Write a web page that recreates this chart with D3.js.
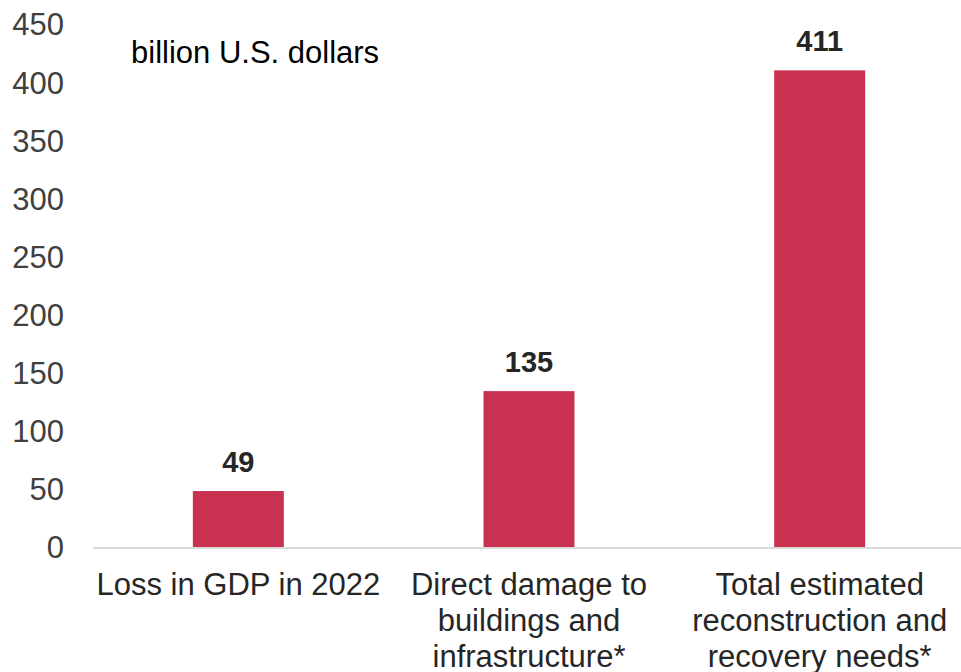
<!DOCTYPE html>
<html>
<head>
<meta charset="utf-8">
<script src="https://cdn.jsdelivr.net/npm/d3@7"></script>
<style>
  html, body { margin: 0; padding: 0; background: #fff; }
  svg { display: block; font-family: "Liberation Sans", Arial, sans-serif; }
</style>
</head>
<body>
<svg id="chart" width="961" height="672"></svg>
<script>
const categories = [
  ["Loss in GDP in 2022"],
  ["Direct damage to", "buildings and", "infrastructure*"],
  ["Total estimated", "reconstruction and", "recovery needs*"]
];
const categoryKeys = ["Loss in GDP in 2022", "Direct damage to buildings and infrastructure*", "Total estimated reconstruction and recovery needs*"];
const values = [49, 135, 411];
const yTicks = [0, 50, 100, 150, 200, 250, 300, 350, 400, 450];
const unitLabel = "billion U.S. dollars";

const svg = d3.select("#chart");

const x = d3.scaleBand()
  .domain(categoryKeys)
  .range([93, 965])
  .paddingInner(0.687)
  .paddingOuter(0.3435);

const y = d3.scaleLinear().domain([0, 450]).range([548, 25]);

// y tick labels
const yAxis = d3.axisLeft(y).tickValues(yTicks).tickSize(0).tickPadding(0);
const yg = svg.append("g").attr("transform", "translate(64,0)").call(yAxis);
yg.select(".domain").remove();
yg.selectAll("text")
  .attr("font-family", "'Liberation Sans', Arial, sans-serif")
  .attr("font-size", 31)
  .attr("fill", "#404040");

// bars
svg.append("g").selectAll("rect")
  .data(values)
  .join("rect")
  .attr("x", (d, i) => x(categoryKeys[i]))
  .attr("width", x.bandwidth())
  .attr("y", d => y(d))
  .attr("height", d => y(0) - y(d))
  .attr("fill", "#C8314F");

// baseline
svg.append("line")
  .attr("x1", 93).attr("x2", 961)
  .attr("y1", y(0)).attr("y2", y(0))
  .attr("stroke", "#d9d9d9").attr("stroke-width", 2);

// value labels
svg.append("g").selectAll("text")
  .data(values)
  .join("text")
  .attr("x", (d, i) => x(categoryKeys[i]) + x.bandwidth() / 2)
  .attr("y", d => y(d) - 19)
  .attr("text-anchor", "middle")
  .attr("font-size", 29)
  .attr("font-weight", "bold")
  .attr("fill", "#262626")
  .text(d => d);

// category labels
const cg = svg.append("g").selectAll("text")
  .data(categories)
  .join("text")
  .attr("x", (d, i) => x(categoryKeys[i]) + x.bandwidth() / 2)
  .attr("y", 595)
  .attr("text-anchor", "middle")
  .attr("font-size", 31)
  .attr("fill", "#262626");
cg.selectAll("tspan")
  .data(d => d)
  .join("tspan")
  .attr("x", function() { return d3.select(this.parentNode).attr("x"); })
  .attr("dy", (d, i) => i === 0 ? 0 : 36)
  .text(d => d);

// unit label
svg.append("text")
  .attr("x", 131).attr("y", 63)
  .attr("font-size", 31)
  .attr("fill", "#000")
  .text(unitLabel);
</script>
</body>
</html>
